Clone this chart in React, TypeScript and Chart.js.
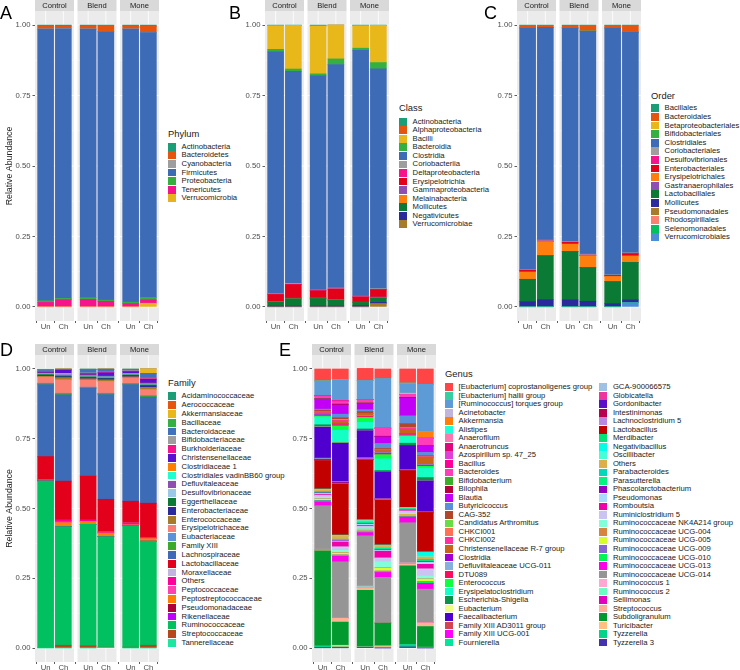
import React, { useEffect, useRef } from 'react';
import { Chart, registerables } from 'chart.js';
Chart.register(...registerables);

const FONT = '"Liberation Sans", Arial, Helvetica, sans-serif';

// ---------- shared axis data ----------
const facetNames = ['Control', 'Blend', 'Mone'];
const sampleNames = ['Un', 'Ch'];
const yTickValues = [0, 0.25, 0.5, 0.75, 1];
// bar order in every series: Control-Un, Control-Ch, Blend-Un, Blend-Ch, Mone-Un, Mone-Ch

// ---------- A: Phylum ----------
const phylumNames = ['Actinobacteria', 'Bacteroidetes', 'Cyanobacteria', 'Firmicutes', 'Proteobacteria', 'Tenericutes', 'Verrucomicrobia'];
const phylumColors = ['#1B9E77', '#E6550D', '#9E9E9E', '#3E6BB6', '#33B040', '#F5148C', '#E8B21C'];
const pActinobacteria = [0.003, 0.004, 0.003, 0.002, 0.003, 0.004];
const pBacteroidetes = [0.010, 0.008, 0.010, 0.020, 0.010, 0.022];
const pCyanobacteria = [0.001, 0.001, 0.001, 0.001, 0.001, 0.001];
const pFirmicutes = [0.964, 0.957, 0.953, 0.953, 0.969, 0.939];
const pProteobacteria = [0.006, 0.004, 0.006, 0.004, 0.005, 0.009];
const pTenericutes = [0.016, 0.026, 0.027, 0.020, 0.012, 0.012];
const pVerrucomicrobia = [0, 0, 0, 0, 0, 0.013];
const phylumValues = [pActinobacteria, pBacteroidetes, pCyanobacteria, pFirmicutes, pProteobacteria, pTenericutes, pVerrucomicrobia];

// ---------- B: Class ----------
const classNames = ['Actinobacteria', 'Alphaproteobacteria', 'Bacilli', 'Bacteroidia', 'Clostridia', 'Coriobacteriia', 'Deltaproteobacteria', 'Erysipelotrichia', 'Gammaproteobacteria', 'Melainabacteria', 'Mollicutes', 'Negativicutes', 'Verrucomicrobiae'];
const classColors = ['#1B9E77', '#E6550D', '#E8B71A', '#33B040', '#3E6BB6', '#9E9E9E', '#F5148C', '#E2001A', '#8E4FB5', '#FF7F0E', '#0B7A35', '#2A2A9C', '#A67C2A'];
const cActinobacteria = [0.002, 0.001, 0.003, 0, 0.002, 0.001];
const cAlphaproteobacteria = [0, 0, 0, 0, 0, 0];
const cBacilli = [0.084, 0.155, 0.170, 0.120, 0.080, 0.132];
const cBacteroidia = [0.009, 0.008, 0.007, 0.020, 0.008, 0.022];
const cClostridia = [0.857, 0.753, 0.760, 0.793, 0.872, 0.780];
const cCoriobacteriia = [0.002, 0.003, 0.002, 0.003, 0.002, 0.003];
const cDeltaproteobacteria = [0.002, 0.001, 0.001, 0.001, 0.001, 0.001];
const cErysipelotrichia = [0.025, 0.048, 0.025, 0.037, 0.018, 0.026];
const cGammaproteobacteria = [0.002, 0.002, 0.002, 0.002, 0.001, 0.004];
const cMelainabacteria = [0, 0, 0, 0, 0, 0];
const cMollicutes = [0.014, 0.026, 0.027, 0.021, 0.012, 0.015];
const cNegativicutes = [0.003, 0.003, 0.003, 0.003, 0.004, 0.004];
const cVerrucomicrobiae = [0, 0, 0, 0, 0, 0.012];
const classValues = [cActinobacteria, cAlphaproteobacteria, cBacilli, cBacteroidia, cClostridia, cCoriobacteriia, cDeltaproteobacteria, cErysipelotrichia, cGammaproteobacteria, cMelainabacteria, cMollicutes, cNegativicutes, cVerrucomicrobiae];

// ---------- C: Order ----------
const orderNames = ['Bacillales', 'Bacteroidales', 'Betaproteobacteriales', 'Bifidobacteriales', 'Clostridiales', 'Coriobacteriales', 'Desulfovibrionales', 'Enterobacteriales', 'Erysipelotrichales', 'Gastranaerophilales', 'Lactobacillales', 'Mollicutes', 'Pseudomonadales', 'Rhodospirillales', 'Selenomonadales', 'Verrucomicrobiales'];
const orderColors = ['#1B9E77', '#E6550D', '#E8B71A', '#33B040', '#3E6BB6', '#9E9E9E', '#F5148C', '#E2001A', '#FF7F0E', '#8E4FB5', '#0B7A35', '#2A2A9C', '#A67C2A', '#FA8072', '#00C060', '#4A8FD6'];
const oBacillales = [0.001, 0.001, 0.002, 0.001, 0.001, 0.001];
const oBacteroidales = [0.009, 0.007, 0.008, 0.020, 0.009, 0.024];
const oBetaproteobacteriales = [0, 0, 0, 0, 0, 0];
const oBifidobacteriales = [0, 0, 0, 0, 0, 0];
const oClostridiales = [0.857, 0.755, 0.758, 0.792, 0.876, 0.783];
const oCoriobacteriales = [0.002, 0.003, 0.002, 0.003, 0.002, 0.002];
const oDesulfovibrionales = [0.001, 0.001, 0.001, 0.001, 0.001, 0.002];
const oEnterobacteriales = [0.006, 0.001, 0.006, 0.001, 0.003, 0.007];
const oErysipelotrichales = [0.026, 0.050, 0.026, 0.042, 0.018, 0.023];
const oGastranaerophilales = [0, 0, 0, 0, 0, 0];
const oLactobacillales = [0.079, 0.156, 0.172, 0.120, 0.078, 0.133];
const oMollicutes = [0.017, 0.025, 0.024, 0.019, 0.011, 0.009];
const oPseudomonadales = [0, 0, 0, 0, 0, 0];
const oRhodospirillales = [0, 0, 0, 0, 0, 0];
const oSelenomonadales = [0.002, 0.001, 0.001, 0.001, 0.001, 0.001];
const oVerrucomicrobiales = [0, 0, 0, 0, 0, 0.015];
const orderValues = [oBacillales, oBacteroidales, oBetaproteobacteriales, oBifidobacteriales, oClostridiales, oCoriobacteriales, oDesulfovibrionales, oEnterobacteriales, oErysipelotrichales, oGastranaerophilales, oLactobacillales, oMollicutes, oPseudomonadales, oRhodospirillales, oSelenomonadales, oVerrucomicrobiales];

// ---------- D: Family ----------
const familyNames = ['Acidaminococcaceae', 'Aerococcaceae', 'Akkermansiaceae', 'Bacillaceae', 'Bacteroidaceae', 'Bifidobacteriaceae', 'Burkholderiaceae', 'Christensenellaceae', 'Clostridiaceae 1', 'Clostridiales vadinBB60 group', 'Defluvitaleaceae', 'Desulfovibrionaceae', 'Eggerthellaceae', 'Enterobacteriaceae', 'Enterococcaceae', 'Erysipelotrichaceae', 'Eubacteriaceae', 'Family XIII', 'Lachnospiraceae', 'Lactobacillaceae', 'Moraxellaceae', 'Others', 'Peptococcaceae', 'Peptostreptococcaceae', 'Pseudomonadaceae', 'Rikenellaceae', 'Ruminococcaceae', 'Streptococcaceae', 'Tannerellaceae'];
const familyColors = ['#1B9E77', '#E6550D', '#E8B71A', '#33B040', '#4270BC', '#9E9E9E', '#F5148C', '#5A10D0', '#FF7F00', '#1DFFD0', '#8E4FB5', '#9CC8E6', '#0B7A35', '#2A2A9C', '#A67C2A', '#FA8072', '#5C93D8', '#3BAA2B', '#3E6BB6', '#E2001A', '#C3B3DF', '#FF0099', '#FF40B0', '#FF7F00', '#B0003A', '#C000FF', '#00C060', '#B5471B', '#1BE7A0'];
const fAcidaminococcaceae = [0.001, 0, 0.001, 0, 0.001, 0];
const fAerococcaceae = [0.001, 0.001, 0.001, 0.001, 0.001, 0];
const fAkkermansiaceae = [0, 0, 0, 0, 0, 0.016];
const fBacillaceae = [0, 0.001, 0, 0, 0, 0];
const fBacteroidaceae = [0.005, 0, 0.012, 0.010, 0.004, 0.017];
const fBifidobacteriaceae = [0.002, 0.001, 0.002, 0.002, 0.002, 0.002];
const fBurkholderiaceae = [0.001, 0.001, 0.002, 0.001, 0.002, 0.002];
const fChristensenellaceae = [0.004, 0.012, 0.004, 0.012, 0.006, 0.014];
const fClostridiaceae1 = [0.001, 0.001, 0.001, 0.001, 0.001, 0.001];
const fVadinBB60 = [0.001, 0.002, 0.001, 0.001, 0.001, 0.001];
const fDefluvitaleaceae = [0.001, 0.002, 0.002, 0.002, 0.001, 0.002];
const fDesulfovibrionaceae = [0.002, 0.003, 0.002, 0.002, 0.002, 0.002];
const fEggerthellaceae = [0.003, 0.004, 0.004, 0.003, 0.003, 0.004];
const fEnterobacteriaceae = [0.003, 0.003, 0.003, 0.004, 0.004, 0.005];
const fEnterococcaceae = [0.003, 0.008, 0.005, 0.006, 0.004, 0.008];
const fErysipelotrichaceae = [0.022, 0.048, 0.025, 0.042, 0.020, 0.022];
const fEubacteriaceae = [0.001, 0.002, 0.001, 0.001, 0.001, 0.001];
const fFamilyXIII = [0.004, 0.004, 0.003, 0.004, 0.003, 0.004];
const fLachnospiraceae = [0.258, 0.309, 0.315, 0.375, 0.418, 0.380];
const fLactobacillaceae = [0.083, 0.140, 0.158, 0.117, 0.078, 0.123];
const fMoraxellaceae = [0, 0, 0, 0, 0, 0];
const fOthers = [0.003, 0.006, 0.004, 0.004, 0.006, 0.004];
const fPeptococcaceae = [0, 0.003, 0, 0, 0.001, 0];
const fPeptostreptococcaceae = [0.001, 0.014, 0.011, 0.013, 0.003, 0.009];
const fPseudomonadaceae = [0, 0, 0, 0, 0, 0];
const fRikenellaceae = [0, 0, 0, 0, 0, 0];
const fRuminococcaceae = [0.597, 0.425, 0.435, 0.396, 0.435, 0.373];
const fStreptococcaceae = [0.002, 0.010, 0.008, 0.001, 0.003, 0.010];
const fTannerellaceae = [0, 0, 0, 0.002, 0, 0];
const familyValues = [fAcidaminococcaceae, fAerococcaceae, fAkkermansiaceae, fBacillaceae, fBacteroidaceae, fBifidobacteriaceae, fBurkholderiaceae, fChristensenellaceae, fClostridiaceae1, fVadinBB60, fDefluvitaleaceae, fDesulfovibrionaceae, fEggerthellaceae, fEnterobacteriaceae, fEnterococcaceae, fErysipelotrichaceae, fEubacteriaceae, fFamilyXIII, fLachnospiraceae, fLactobacillaceae, fMoraxellaceae, fOthers, fPeptococcaceae, fPeptostreptococcaceae, fPseudomonadaceae, fRikenellaceae, fRuminococcaceae, fStreptococcaceae, fTannerellaceae];

// ---------- E: Genus ----------
const genusNames = ['[Eubacterium] coprostanoligenes group', '[Eubacterium] hallii group', '[Ruminococcus] torques group', 'Acinetobacter', 'Akkermansia', 'Alistipes', 'Anaerofilum', 'Anaerotruncus', 'Azospirillum sp. 47_25', 'Bacillus', 'Bacteroides', 'Bifidobacterium', 'Bilophila', 'Blautia', 'Butyricicoccus', 'CAG-352', 'Candidatus Arthromitus', 'CHKCI001', 'CHKCI002', 'Christensenellaceae R-7 group', 'Clostridia', 'Defluviitaleaceae UCG-011', 'DTU089', 'Enterococcus', 'Erysipelatoclostridium', 'Escherichia-Shigella', 'Eubacterium', 'Faecalibacterium', 'Family XIII AD3011 group', 'Family XIII UCG-001', 'Fournierella', 'GCA-900066575', 'Globicatella', 'Gordonibacter', 'Intestinimonas', 'Lachnoclostridium 5', 'Lactobacillus', 'Merdibacter', 'Negativibacillus', 'Oscillibacter', 'Others', 'Parabacteroides', 'Parasutterella', 'Phascolarctobacterium', 'Pseudomonas', 'Romboutsia', 'Ruminiclostridium 5', 'Ruminococcaceae NK4A214 group', 'Ruminococcaceae UCG-004', 'Ruminococcaceae UCG-005', 'Ruminococcaceae UCG-009', 'Ruminococcaceae UCG-010', 'Ruminococcaceae UCG-013', 'Ruminococcaceae UCG-014', 'Ruminococcus 1', 'Ruminococcus 2', 'Sellimonas', 'Streptococcus', 'Subdoligranulum', 'Turicibacter', 'Tyzzerella', 'Tyzzerella 3'];
const genusColors = ['#FF4545', '#36CFA0', '#5C9BD6', '#C3B3DF', '#FF7F0A', '#1FFFD8', '#FF77B0', '#E0087A', '#E040D8', '#FF0099', '#FF3DBB', '#3AAE28', '#B8003C', '#C100F5', '#5B8FDB', '#B0472A', '#66DD44', '#FF7055', '#FF2FA3', '#C8631A', '#A100D0', '#86AFDB', '#FF0A5E', '#0CFF40', '#14FFC4', '#0B9447', '#F1FF80', '#5000CE', '#D24550', '#FF00FF', '#00E69A', '#9EC2E6', '#F0349E', '#5B0FC8', '#B80050', '#B888E0', '#C20000', '#00E37A', '#00FFE6', '#44FFD8', '#E0AE48', '#00D8B8', '#00F580', '#9A00C2', '#A8DAFF', '#F200A8', '#CBC3F2', '#80FFD8', '#D78440', '#D8FF2A', '#8565D3', '#00F550', '#FF00EA', '#959595', '#FFA6D2', '#6AFFC0', '#E500C0', '#FFB095', '#009A2E', '#FFC080', '#00D488', '#4331B0'];
const gEubCoprostanoligenes = [0.042, 0.038, 0.044, 0.035, 0.050, 0.055];
const gEubHallii = [0.002, 0.002, 0, 0, 0.004, 0];
const gRumTorques = [0.052, 0.074, 0.068, 0.177, 0.033, 0.169];
const gAcinetobacter = [0, 0, 0, 0, 0, 0];
const gAkkermansia = [0, 0, 0, 0, 0, 0.024];
const gAlistipes = [0, 0, 0, 0, 0.004, 0];
const gAnaerofilum = [0, 0, 0, 0, 0, 0];
const gAnaerotruncus = [0, 0, 0, 0, 0, 0];
const gAzospirillum = [0, 0, 0, 0, 0, 0];
const gBacillus = [0.001, 0.003, 0, 0, 0, 0];
const gBacteroides = [0.009, 0.008, 0.012, 0.029, 0.011, 0.027];
const gBifidobacterium = [0.001, 0.001, 0, 0, 0, 0];
const gBilophila = [0.001, 0.003, 0.002, 0.002, 0.002, 0.002];
const gBlautia = [0.036, 0.033, 0.022, 0.024, 0.064, 0.022];
const gButyricicoccus = [0.004, 0.013, 0.007, 0.018, 0.028, 0.012];
const gCAG352 = [0.006, 0.006, 0.006, 0.005, 0.015, 0.004];
const gCandArthromitus = [0.001, 0.001, 0, 0, 0, 0];
const gCHKCI001 = [0.001, 0.002, 0, 0, 0.002, 0];
const gCHKCI002 = [0.002, 0.003, 0.002, 0.002, 0.003, 0.003];
const gChristensenellaceaeR7 = [0.005, 0.008, 0.006, 0.008, 0.015, 0.025];
const gClostridia = [0.002, 0.002, 0, 0, 0.002, 0];
const gDefluviitaleaceae = [0.002, 0.002, 0.002, 0.002, 0.002, 0.002];
const gDTU089 = [0.003, 0.005, 0.004, 0.005, 0.004, 0.004];
const gEnterococcus = [0.002, 0.016, 0.018, 0.015, 0.003, 0.006];
const gErysipelatoclostridium = [0.028, 0.043, 0.024, 0.042, 0.024, 0.034];
const gEscherichiaShigella = [0.007, 0.002, 0.006, 0.004, 0.008, 0.012];
const gEubacterium = [0.001, 0.001, 0, 0, 0, 0];
const gFaecalibacterium = [0.111, 0.137, 0.096, 0.096, 0.088, 0.110];
const gFamXIIIAD3011 = [0.002, 0.001, 0.003, 0.001, 0, 0];
const gFamXIIIUCG001 = [0.001, 0.001, 0.003, 0.001, 0, 0];
const gFournierella = [0.001, 0.001, 0, 0, 0.001, 0];
const gGCA900066575 = [0.001, 0.001, 0.001, 0, 0.001, 0.001];
const gGlobicatella = [0, 0, 0, 0, 0, 0];
const gGordonibacter = [0.001, 0.001, 0, 0.001, 0, 0];
const gIntestinimonas = [0.002, 0.002, 0.001, 0.001, 0, 0.001];
const gLachnoclostridium5 = [0.001, 0.002, 0.001, 0.002, 0, 0.001];
const gLactobacillus = [0.102, 0.183, 0.215, 0.161, 0.132, 0.142];
const gMerdibacter = [0.001, 0.001, 0, 0, 0, 0];
const gNegativibacillus = [0.002, 0.002, 0.002, 0.003, 0.003, 0.015];
const gOscillibacter = [0.002, 0.002, 0.002, 0.002, 0.002, 0.003];
const gOthers = [0.004, 0.010, 0.004, 0.006, 0, 0.008];
const gParabacteroides = [0.003, 0.002, 0.002, 0.002, 0, 0.003];
const gParasutterella = [0.002, 0.002, 0.003, 0.003, 0.002, 0.004];
const gPhascolarctobacterium = [0.002, 0.002, 0.002, 0.002, 0.002, 0.003];
const gPseudomonas = [0.004, 0.004, 0.005, 0.004, 0.002, 0.008];
const gRomboutsia = [0.003, 0.017, 0.003, 0.024, 0.002, 0.016];
const gRuminiclostridium5 = [0.008, 0.013, 0.006, 0.014, 0.009, 0.026];
const gRumNK4A214 = [0.004, 0.008, 0.004, 0.020, 0.003, 0.010];
const gRumUCG004 = [0.002, 0.002, 0.002, 0.002, 0.002, 0.002];
const gRumUCG005 = [0.004, 0.006, 0.004, 0.011, 0.004, 0.008];
const gRumUCG009 = [0.002, 0.002, 0.002, 0.002, 0, 0.002];
const gRumUCG010 = [0.003, 0.003, 0.004, 0.003, 0.003, 0.004];
const gRumUCG013 = [0.014, 0.020, 0.012, 0.018, 0.021, 0.021];
const gRumUCG014 = [0.156, 0.200, 0.180, 0.163, 0.144, 0.120];
const gRuminococcus1 = [0.001, 0, 0.002, 0, 0.003, 0];
const gRuminococcus2 = [0.001, 0.001, 0.002, 0, 0, 0];
const gSellimonas = [0.001, 0.001, 0.001, 0, 0, 0];
const gStreptococcus = [0.003, 0.014, 0.010, 0, 0.007, 0.014];
const gSubdoligranulum = [0.341, 0.083, 0.202, 0.082, 0.282, 0.074];
const gTuricibacter = [0.001, 0.006, 0.001, 0.005, 0, 0];
const gTyzzerella = [0.005, 0.003, 0.001, 0.003, 0.009, 0.003];
const gTyzzerella3 = [0.001, 0.001, 0.003, 0, 0.004, 0];
const genusValues = [gEubCoprostanoligenes, gEubHallii, gRumTorques, gAcinetobacter, gAkkermansia, gAlistipes, gAnaerofilum, gAnaerotruncus, gAzospirillum, gBacillus, gBacteroides, gBifidobacterium, gBilophila, gBlautia, gButyricicoccus, gCAG352, gCandArthromitus, gCHKCI001, gCHKCI002, gChristensenellaceaeR7, gClostridia, gDefluviitaleaceae, gDTU089, gEnterococcus, gErysipelatoclostridium, gEscherichiaShigella, gEubacterium, gFaecalibacterium, gFamXIIIAD3011, gFamXIIIUCG001, gFournierella, gGCA900066575, gGlobicatella, gGordonibacter, gIntestinimonas, gLachnoclostridium5, gLactobacillus, gMerdibacter, gNegativibacillus, gOscillibacter, gOthers, gParabacteroides, gParasutterella, gPhascolarctobacterium, gPseudomonas, gRomboutsia, gRuminiclostridium5, gRumNK4A214, gRumUCG004, gRumUCG005, gRumUCG009, gRumUCG010, gRumUCG013, gRumUCG014, gRuminococcus1, gRuminococcus2, gSellimonas, gStreptococcus, gSubdoligranulum, gTuricibacter, gTyzzerella, gTyzzerella3];

// ---------- layout (facet geometry in x units, ggplot-like) ----------
const FACET_U = 2.2;
const GAP_U = 0.2;
const TOTAL_U = 3 * FACET_U + 2 * GAP_U;
const PW = 124;
const STRIP_H = 11;

function barX(i: number) {
  const f = Math.floor(i / 2);
  return f * (FACET_U + GAP_U) + 0.6 + (i % 2);
}

const facetPlugin = {
  id: 'facetDecor',
  beforeDatasetsDraw(chart: any) {
    const { ctx, chartArea: ca, scales } = chart;
    const x = scales.x;
    const y = scales.y;
    ctx.save();
    facetNames.forEach((name, f) => {
      const x0 = x.getPixelForValue(f * (FACET_U + GAP_U));
      const x1 = x.getPixelForValue(f * (FACET_U + GAP_U) + FACET_U);
      ctx.fillStyle = '#EBEBEB';
      ctx.fillRect(x0, ca.top, x1 - x0, ca.bottom - ca.top);
      ctx.strokeStyle = '#FFFFFF';
      ctx.lineWidth = 0.4;
      [0.125, 0.375, 0.625, 0.875].forEach((v) => {
        const py = y.getPixelForValue(v);
        ctx.beginPath(); ctx.moveTo(x0, py); ctx.lineTo(x1, py); ctx.stroke();
      });
      ctx.lineWidth = 0.8;
      yTickValues.forEach((v) => {
        const py = y.getPixelForValue(v);
        ctx.beginPath(); ctx.moveTo(x0, py); ctx.lineTo(x1, py); ctx.stroke();
      });
      [0, 1].forEach((s) => {
        const px = x.getPixelForValue(barX(f * 2 + s));
        ctx.beginPath(); ctx.moveTo(px, ca.top); ctx.lineTo(px, ca.bottom); ctx.stroke();
      });
      ctx.fillStyle = '#D9D9D9';
      ctx.fillRect(x0, ca.top - STRIP_H, x1 - x0, STRIP_H);
      ctx.fillStyle = '#1A1A1A';
      ctx.font = `7.6px ${FONT}`;
      ctx.textAlign = 'center';
      ctx.textBaseline = 'middle';
      ctx.fillText(name, (x0 + x1) / 2, ca.top - STRIP_H / 2 + 0.5);
    });
    ctx.restore();
  },
};

type PanelProps = {
  left: number; top: number; axisW: number; chartTop: number; chartBottom: number; height: number;
  names: string[]; colors: string[]; values: number[][]; yTitle?: string;
};

function StackPanel({ left, top, axisW, chartTop, chartBottom, height, names, colors, values, yTitle }: PanelProps) {
  const ref = useRef<HTMLCanvasElement | null>(null);
  useEffect(() => {
    if (!ref.current) return;
    const datasets = names
      .map((n, k) => ({
        label: n,
        data: values[k].map((v, i) => ({ x: barX(i), y: v })),
        backgroundColor: colors[k],
        borderWidth: 0,
        barThickness: (0.9 * PW) / TOTAL_U,
      }))
      .reverse();
    const chart = new Chart(ref.current, {
      type: 'bar',
      data: { datasets } as any,
      options: {
        animation: false,
        responsive: false,
        maintainAspectRatio: false,
        devicePixelRatio: 1,
        layout: { padding: { top: chartTop, left: 0, right: 0, bottom: 0 } },
        plugins: { legend: { display: false }, tooltip: { enabled: false } },
        scales: {
          x: {
            type: 'linear', min: 0, max: TOTAL_U, offset: false, stacked: true,
            border: { display: false },
            grid: { display: true, drawOnChartArea: false, drawTicks: true, tickLength: 2, tickColor: '#333333', tickWidth: 0.8 },
            ticks: {
              autoSkip: false, maxRotation: 0, padding: -1, color: '#4D4D4D',
              font: { family: FONT, size: 7.7 },
              callback: (_v: any, i: number) => sampleNames[i % 2],
            },
            afterBuildTicks: (s: any) => { s.ticks = [0, 1, 2, 3, 4, 5].map((i) => ({ value: barX(i) })); },
            afterFit: (s: any) => { s.height = height - chartBottom; s.paddingLeft = 0; s.paddingRight = 0; },
          },
          y: {
            type: 'linear', min: -0.05, max: 1.05, stacked: true,
            border: { display: false },
            grid: { display: true, drawOnChartArea: false, drawTicks: true, tickLength: 2.5, tickColor: '#333333', tickWidth: 0.8 },
            ticks: {
              padding: 2, color: '#4D4D4D', font: { family: FONT, size: 7.7 },
              callback: (v: any) => Number(v).toFixed(2),
            },
            title: yTitle
              ? { display: true, text: yTitle, color: '#1A1A1A', font: { family: FONT, size: 8.8 }, padding: { top: 4.5, bottom: 0 } }
              : { display: false },
            afterBuildTicks: (s: any) => { s.ticks = yTickValues.map((v) => ({ value: v })); },
            afterFit: (s: any) => { s.width = axisW; s.paddingTop = 0; s.paddingBottom = 0; },
          },
        },
      } as any,
      plugins: [facetPlugin],
    });
    return () => chart.destroy();
  }, []);
  const w = axisW + PW;
  return (
    <canvas
      ref={ref}
      width={w}
      height={height}
      style={{ position: 'absolute', left, top, width: w, height }}
    />
  );
}

type LegendProps = {
  x: number; titleY: number; firstY: number; step: number; title: string;
  names: string[]; colors: string[]; perCol?: number; col2X?: number;
};

function Legend({ x, titleY, firstY, step, title, names, colors, perCol, col2X }: LegendProps) {
  return (
    <>
      <div style={{ position: 'absolute', left: x, top: titleY - 6, height: 12, lineHeight: '12px', fontSize: 9.4, color: '#1A1A1A', whiteSpace: 'nowrap' }}>{title}</div>
      {names.map((n, i) => {
        const col = perCol && i >= perCol ? 1 : 0;
        const row = col ? i - (perCol as number) : i;
        const bx = col ? (col2X as number) : x;
        const cy = firstY + row * step;
        return (
          <React.Fragment key={n + i}>
            <div style={{ position: 'absolute', left: bx, top: cy - 3.9, width: 8, height: 7.8, background: colors[i] }} />
            <div style={{ position: 'absolute', left: bx + 13.6, top: cy - 5, height: 10, lineHeight: '10px', fontSize: 7.7, color: '#1A1A1A', whiteSpace: 'nowrap' }}>{n}</div>
          </React.Fragment>
        );
      })}
    </>
  );
}

function Letter({ x, y, t }: { x: number; y: number; t: string }) {
  return <div style={{ position: 'absolute', left: x, top: y, fontSize: 18, lineHeight: '18px', color: '#000' }}>{t}</div>;
}

export default function App() {
  return (
    <div style={{ position: 'absolute', left: 0, top: 0, width: 740, height: 670, background: '#FFFFFF', overflow: 'hidden', fontFamily: FONT }}>
      <StackPanel left={0} top={0} axisW={35} chartTop={11} chartBottom={321} height={332} names={phylumNames} colors={phylumColors} values={phylumValues} yTitle="Relative Abundance" />
      <StackPanel left={240} top={0} axisW={25} chartTop={11} chartBottom={321} height={332} names={classNames} colors={classColors} values={classValues} />
      <StackPanel left={492} top={0} axisW={25} chartTop={11} chartBottom={321} height={332} names={orderNames} colors={orderColors} values={orderValues} />
      <StackPanel left={0} top={344} axisW={35} chartTop={11} chartBottom={318} height={326} names={familyNames} colors={familyColors} values={familyValues} yTitle="Relative Abundance" />
      <StackPanel left={287} top={344} axisW={25} chartTop={11} chartBottom={318} height={326} names={genusNames} colors={genusColors} values={genusValues} />

      <Legend x={168} titleY={134} firstY={146.7} step={8.6} title="Phylum" names={phylumNames} colors={phylumColors} />
      <Legend x={399} titleY={108.3} firstY={121.7} step={8.55} title="Class" names={classNames} colors={classColors} />
      <Legend x={651} titleY={95.7} firstY={108.3} step={8.6} title="Order" names={orderNames} colors={orderColors} />
      <Legend x={168} titleY={383.3} firstY={396.3} step={8.81} title="Family" names={familyNames} colors={familyColors} />
      <Legend x={445} titleY={374.3} firstY={387.3} step={8.51} title="Genus" names={genusNames} colors={genusColors} perCol={31} col2X={599.3} />

      <Letter x={0} y={3.8} t="A" />
      <Letter x={229} y={3.8} t="B" />
      <Letter x={484} y={3.8} t="C" />
      <Letter x={0} y={340.5} t="D" />
      <Letter x={279} y={340.5} t="E" />
    </div>
  );
}
